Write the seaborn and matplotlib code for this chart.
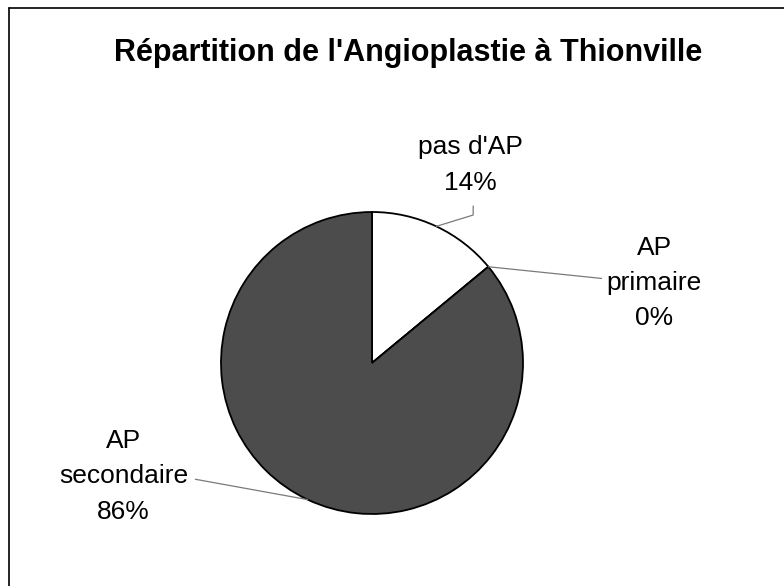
import matplotlib
matplotlib.use("Agg")
import matplotlib.pyplot as plt
import seaborn as sns
import numpy as np
from matplotlib.lines import Line2D

# data
labels = ["pas d'AP", "AP\nprimaire", "AP\nsecondaire"]
values = [14, 0, 86]
pct_labels = ["14%", "0%", "86%"]
colors = ["#ffffff", "#9a9a9a", "#4c4c4c"]

sns.set_theme(style="white")
plt.rcParams['font.family'] = ['Liberation Sans', 'DejaVu Sans']
plt.rcParams['text.color'] = 'black'

fig = plt.figure(figsize=(7.84, 5.86), dpi=100)
fig.patch.set_facecolor("white")

# pie axes: centre ~(372,363) px, radius ~151 px
W, H = 784, 586
cx, cy, r = 372, 363, 151
ax = fig.add_axes([(cx - r) / W, (H - cy - r) / H, 2 * r / W, 2 * r / H])
wedges, _ = ax.pie(values, colors=colors, startangle=90, counterclock=False,
                   wedgeprops=dict(edgecolor="black", linewidth=1.3))
ax.set_xlim(-1, 1)
ax.set_ylim(-1, 1)
ax.set_aspect("equal")
ax.axis("off")

# label positions (data coords, relative to pie radius)
label_pos = [(0.65, 1.31), (1.87, 0.53), (-1.645, -0.75)]
# leader line start (near label)
leader_start = [(0.67, 1.04), (1.52, 0.56), (-1.17, -0.77)]

for w, lab, pct, (lx, ly), (sx, sy) in zip(wedges, labels, pct_labels, label_pos, leader_start):
    ang = np.deg2rad((w.theta1 + w.theta2) / 2)
    ex, ey = np.cos(ang), np.sin(ang)
    ax.text(lx, ly, lab + "\n" + pct, ha="center", va="center", fontsize=19,
            linespacing=1.6, color="black")
    if lab == "pas d'AP":
        xs = [sx, sx, ex]
        ys = [sy, sy - 0.06, ey]
    else:
        xs = [sx, ex]
        ys = [sy, ey]
    ax.plot(xs, ys, color="#7a7a7a", linewidth=0.9, clip_on=False)

fig.text(408 / W, 1 - 61 / H, "Répartition de l'Angioplastie à Thionville",
         ha="center", va="baseline", fontsize=22, fontweight="bold")

# frame lines (left and top only)
fig.add_artist(Line2D([9 / W, 9 / W], [0, 1 - 8 / H], color="black", linewidth=1.2,
                      transform=fig.transFigure))
fig.add_artist(Line2D([9 / W, 1], [1 - 8 / H, 1 - 8 / H], color="black", linewidth=1.2,
                      transform=fig.transFigure))

fig.savefig("out.png", dpi=100)
